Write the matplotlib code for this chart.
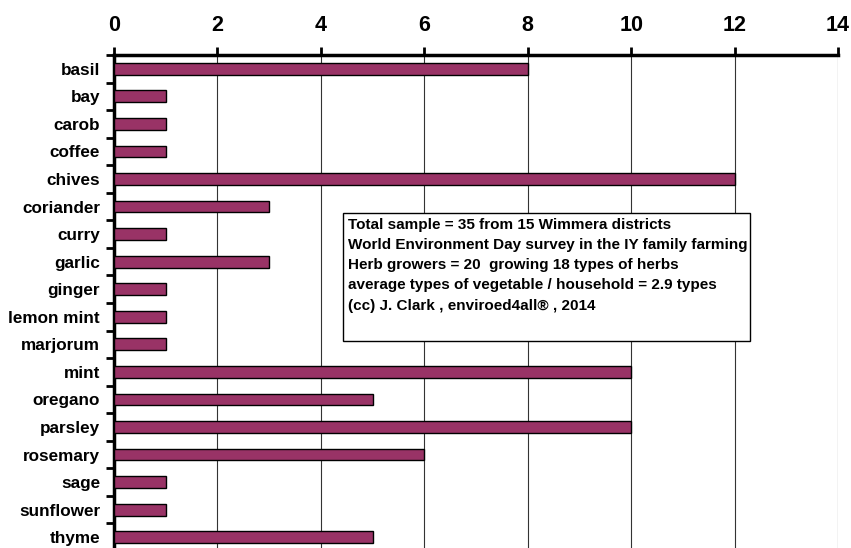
import matplotlib.pyplot as plt
from matplotlib.patches import Rectangle

plt.rcParams['font.family'] = ['Liberation Sans', 'DejaVu Sans']
plt.rcParams['font.weight'] = 'bold'

herbs = ['basil', 'bay', 'carob', 'coffee', 'chives', 'coriander', 'curry',
         'garlic', 'ginger', 'lemon mint', 'marjorum', 'mint', 'oregano',
         'parsley', 'rosemary', 'sage', 'sunflower', 'thyme']
counts = [8, 1, 1, 1, 12, 3, 1, 3, 1, 1, 1, 10, 5, 10, 6, 1, 1, 5]
x_ticks = [0, 2, 4, 6, 8, 10, 12, 14]
note_lines = [
    'Total sample = 35 from 15 Wimmera districts',
    'World Environment Day survey in the IY family farming',
    'Herb growers = 20  growing 18 types of herbs',
    'average types of vegetable / household = 2.9 types',
    '(cc) J. Clark , enviroed4all\u00ae , 2014',
]

W, H = 851, 548
fig = plt.figure(figsize=(W / 100, H / 100), dpi=100)
# axes in pixel terms: left 114, right 838, top 55, bottom 551
ax = fig.add_axes([114 / W, (H - 551) / H, (838 - 114) / W, (551 - 55) / H])

pos = list(range(len(herbs)))
ax.barh(pos, counts, height=0.43, color='#993366', edgecolor='black', linewidth=1, zorder=3)

ax.set_xlim(0, 14)
ax.set_ylim(len(herbs) - 0.5, -0.5)
ax.set_xticks(x_ticks)
ax.xaxis.tick_top()
ax.tick_params(axis='x', direction='out', length=6, width=2, labelsize=15.5, pad=8)
ax.grid(axis='x', color='#333333', linewidth=0.8, zorder=0)

ax.set_yticks([p - 0.5 for p in pos] + [len(herbs) - 0.5])
ax.set_yticklabels([])
ax.set_yticks(pos, minor=True)
ax.set_yticklabels(herbs, minor=True, fontsize=12.3, fontweight='bold')
ax.tick_params(axis='y', which='major', direction='out', length=6, width=2)
ax.tick_params(axis='y', which='minor', length=0, pad=10)

for s in ['right', 'bottom']:
    ax.spines[s].set_visible(False)
ax.spines['top'].set_linewidth(2.5)
ax.spines['left'].set_linewidth(2.5)

for lab in ax.get_xticklabels():
    lab.set_fontweight('bold')

# note box
fig.patches.append(Rectangle((343 / W, (H - 341) / H), (750 - 343) / W, (341 - 213) / H,
                             transform=fig.transFigure, facecolor='white',
                             edgecolor='black', linewidth=1, zorder=5))
fig.text(348 / W, (H - 218) / H, '\n'.join(note_lines), fontsize=11.0, fontweight='bold',
         va='top', ha='left', linespacing=1.56, zorder=6)

fig.savefig('out.png', dpi=100)
